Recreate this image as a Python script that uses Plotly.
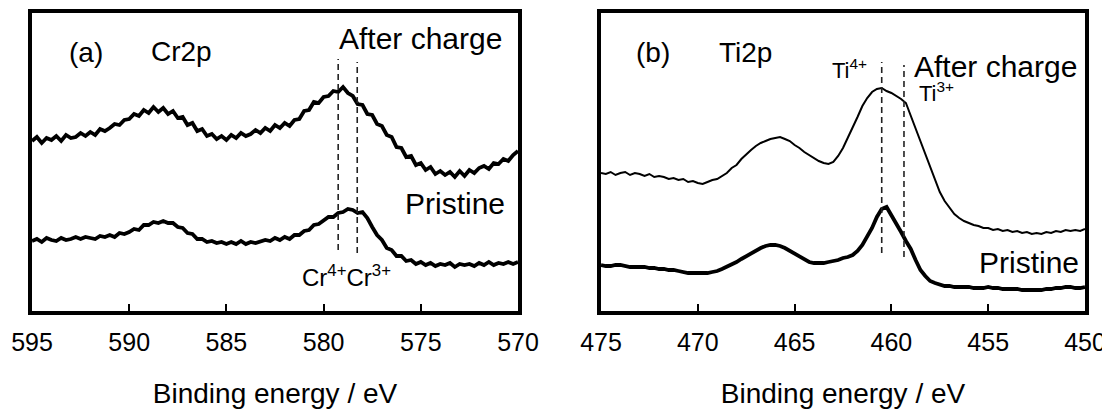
import numpy as np
import plotly.graph_objects as go

# ---------------- data ----------------
# Cr2p (binding energy grid 595 -> 570 eV, 0.25 eV step)
cr_energy = np.arange(595.0, 569.99, -0.25)
cr_after = [170, 174, 168, 173, 171, 175, 170, 176, 173, 174,
            178, 175, 179, 176, 182, 180, 183, 187, 186, 191,
            192, 197, 195, 201, 198, 204, 199, 203, 197, 200,
            193, 194, 186, 188, 180, 182, 175, 177, 172, 175,
            171, 176, 173, 178, 175, 177, 181, 178, 183, 180,
            186, 183, 188, 185, 191, 192, 200, 201, 209, 208,
            214, 215, 220, 219, 224, 218, 215, 207, 206, 197,
            196, 187, 185, 176, 174, 164, 163, 154, 155, 146,
            148, 141, 144, 137, 140, 136, 139, 134, 140, 135,
            141, 138, 143, 145, 142, 148, 147, 152, 150, 156,
            160]
cr_pristine = [70, 72, 69, 73, 71, 70, 73, 71, 72, 74,
               72, 74, 73, 72, 75, 74, 76, 74, 78, 77,
               79, 82, 81, 86, 86, 89, 88, 90, 88, 88,
               84, 83, 78, 77, 72, 72, 69, 70, 68, 69,
               67, 69, 67, 70, 67, 69, 68, 70, 71, 70,
               73, 71, 74, 72, 76, 76, 80, 81, 86, 87,
               91, 94, 94, 98, 99, 102, 101, 98, 99, 93,
               84, 76, 71, 63, 61, 55, 55, 50, 51, 47,
               49, 46, 48, 45, 47, 46, 48, 44, 47, 46,
               47, 45, 48, 46, 49, 46, 48, 47, 49, 47,
               49]

# Ti2p (binding energy grid 475 -> 450 eV, 0.25 eV step)
ti_energy = np.arange(475.0, 449.99, -0.25)
ti_after = [138, 137, 139, 136, 138, 139, 136, 138, 137, 135,
            137, 134, 135, 134, 132, 133, 131, 132, 129, 130,
            128, 127, 129, 131, 132, 135, 138, 143, 146, 152,
            157, 161, 165, 168, 170, 172, 173, 174, 172, 170,
            166, 163, 159, 156, 153, 150, 148, 147, 149, 155,
            163, 173, 183, 194, 205, 213, 219, 222, 223, 220,
            218, 215, 212, 208, 195, 184, 170, 157, 143, 130,
            119, 110, 103, 97, 93, 90, 88, 86, 85, 83,
            83, 81, 82, 80, 81, 79, 80, 78, 79, 77,
            78, 77, 79, 78, 80, 79, 81, 80, 81, 80,
            82]
ti_pristine = [46, 45, 45, 46, 46, 45, 44, 44, 44, 44,
               43, 43, 42, 42, 41, 41, 40, 39, 38, 38,
               38, 38, 38, 39, 40, 42, 44, 46, 49, 52,
               55, 58, 61, 63, 65, 66, 66, 65, 63, 60,
               57, 54, 51, 49, 48, 48, 48, 49, 50, 51,
               53, 54, 56, 60, 66, 74, 83, 94, 102, 104,
               96, 88, 79, 70, 62, 51, 41, 35, 30, 28,
               26, 25, 25, 24, 24, 24, 24, 23, 23, 23,
               24, 23, 23, 22, 22, 22, 22, 21, 21, 21,
               21, 21, 22, 22, 23, 23, 24, 24, 23, 23,
               24]

cr_ticks = [595, 590, 585, 580, 575, 570]
ti_ticks = [475, 470, 465, 460, 455, 450]

# reference peak positions (eV) and the vertical extent of their markers
cr_refs = [579.25, 578.27]
cr_ref_y = [(61, 252), (58, 249)]
ti_refs = [460.5, 459.35]
ti_ref_y = [(58, 249), (54, 246)]

FONT = "Liberation Sans, Arial, Helvetica, sans-serif"

fig = go.Figure()
fig.add_trace(go.Scatter(x=cr_energy, y=cr_after, mode="lines",
                         line=dict(color="black", width=3.8), xaxis="x", yaxis="y"))
fig.add_trace(go.Scatter(x=cr_energy, y=cr_pristine, mode="lines",
                         line=dict(color="black", width=3.8), xaxis="x", yaxis="y"))
fig.add_trace(go.Scatter(x=ti_energy, y=ti_after, mode="lines",
                         line=dict(color="black", width=2), xaxis="x2", yaxis="y2"))
fig.add_trace(go.Scatter(x=ti_energy, y=ti_pristine, mode="lines",
                         line=dict(color="black", width=3.8), xaxis="x2", yaxis="y2"))

# page body has an 8px margin, so the figure is laid out 8px smaller / shifted
OFF = 8
W, H = 1110 - OFF, 412 - OFF
ydom = [1 - (311 - OFF) / H, 1 - (13 - OFF) / H]

def xax(domain, rng, ticks, anchor):
    return dict(domain=domain, range=rng, tickvals=ticks, ticktext=[str(t) for t in ticks],
                ticks="inside", ticklen=7, tickwidth=1.5, tickcolor="black",
                showline=True, linewidth=3.8, linecolor="black", mirror=True,
                showgrid=False, zeroline=False, anchor=anchor, automargin=False,
                tickfont=dict(size=25, color="black", family=FONT),
                ticklabelstandoff=6,
                title=dict(text="Binding energy / eV", font=dict(size=28, color="black", family=FONT),
                           standoff=29))

def yax(anchor):
    return dict(domain=ydom, range=[0, 298], showline=True, linewidth=3.8, linecolor="black",
                mirror=True, showticklabels=False, ticks="", showgrid=False, zeroline=False,
                anchor=anchor, automargin=False)

shapes = []
for e, (y0, y1) in zip(cr_refs, cr_ref_y):
    shapes.append(dict(type="line", xref="x", yref="y", x0=e, x1=e, y0=y0, y1=y1,
                       line=dict(color="#222", width=1.6, dash="6px,4px")))
for e, (y0, y1) in zip(ti_refs, ti_ref_y):
    shapes.append(dict(type="line", xref="x2", yref="y2", x0=e, x1=e, y0=y0, y1=y1,
                       line=dict(color="#222", width=1.6, dash="6px,4px")))

def ann(text, x, y, xref, yref, size, xanchor="left"):
    return dict(text=text, x=x, y=y, xref=xref, yref=yref, showarrow=False,
                xanchor=xanchor, yanchor="middle",
                font=dict(size=size, color="black", family=FONT))

annotations = [
    ann("(a)", 592.22, 259, "x", "y", 28, "center"),
    ann("Cr2p", 587.31, 260, "x", "y", 28, "center"),
    ann("After charge", 579.31, 273, "x", "y", 30),
    ann("Pristine", 575.92, 108, "x", "y", 30),
    ann("Cr<sup>4+</sup>Cr<sup>3+</sup>", 581.21, 35, "x", "y", 24),
    ann("(b)", 472.29, 259, "x2", "y2", 28, "center"),
    ann("Ti2p", 467.56, 259, "x2", "y2", 28, "center"),
    ann("Ti<sup>4+</sup>", 463.17, 242, "x2", "y2", 22),
    ann("After charge", 458.94, 245, "x2", "y2", 30),
    ann("Ti<sup>3+</sup>", 458.68, 219, "x2", "y2", 22),
    ann("Pristine", 455.58, 49, "x2", "y2", 30),
]

fig.update_layout(
    width=W, height=H, margin=dict(l=0, r=0, t=0, b=0, autoexpand=False),
    paper_bgcolor="white", plot_bgcolor="white", showlegend=False,
    font=dict(family=FONT, color="black"),
    xaxis=xax([(32 - OFF) / W, (518 - OFF) / W], [595, 570], cr_ticks, "y"),
    yaxis=yax("x"),
    xaxis2=xax([(601 - OFF) / W, (1085 - OFF) / W], [475, 450], ti_ticks, "y2"),
    yaxis2=yax("x2"),
    shapes=shapes, annotations=annotations,
)

fig.write_html("out.html")
